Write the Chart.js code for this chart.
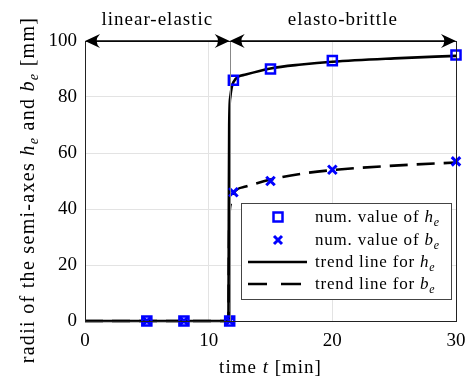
<!DOCTYPE html>
<html>
<head>
<meta charset="utf-8">
<script src="https://cdn.jsdelivr.net/npm/chart.js@4.4.1/dist/chart.umd.min.js"></script>
<style>
  html, body { margin: 0; padding: 0; background: #fff; }
</style>
</head>
<body>
<canvas id="canvas" width="470" height="382"></canvas>
<script>
// numerical values
const tMarks = [5, 8, 11.7, 12, 15, 20, 30];
const heMarks = [0, 0, 0, 86, 90, 93, 95];
const beMarks = [0, 0, 0, 46, 50, 54, 57];

// trend lines
const tTrendH = [0, 11.6, 11.63, 11.66, 11.75, 12, 13, 15, 17.5, 20, 25, 30];
const heTrend = [0, 0, 40, 70, 80, 85.3, 88, 90.2, 91.6, 92.6, 93.8, 94.7];
const tTrendB = [0, 11.6, 11.63, 11.66, 11.8, 12, 13, 15, 17.5, 20, 25, 30];
const beTrend = [0, 0, 20, 35, 42, 45.5, 48, 50.5, 52.6, 53.9, 55.5, 56.6];

const xTicks = [0, 10, 20, 30];
const yTicks = [0, 20, 40, 60, 80, 100];

// phases shown with arrows at the top
const phaseBounds = [0, 11.7, 30];
const phaseLabels = ['linear-elastic', 'elasto-brittle'];

const FONT = '"Liberation Serif", "Times New Roman", serif';
const BLUE = '#0000ff';

const toXY = (xs, ys) => xs.map((x, i) => ({ x: x, y: ys[i] }));

// draw text made of pieces: [text, italic, sub]
function richWidth(ctx, parts, size) {
    let w = 0;
    parts.forEach(p => {
        ctx.font = (p[1] ? 'italic ' : '') + (p[2] ? size * 0.7 : size) + 'px ' + FONT;
        w += ctx.measureText(p[0]).width;
    });
    return w;
}
function richText(ctx, parts, x, y, size) {
    ctx.textAlign = 'left';
    ctx.textBaseline = 'alphabetic';
    parts.forEach(p => {
        ctx.font = (p[1] ? 'italic ' : '') + (p[2] ? size * 0.7 : size) + 'px ' + FONT;
        ctx.fillText(p[0], x, y + (p[2] ? size * 0.22 : 0));
        x += ctx.measureText(p[0]).width;
    });
}

function arrowHead(ctx, x, y, dir) {
    const L = 15, W = 7;
    ctx.beginPath();
    ctx.moveTo(x, y);
    ctx.lineTo(x - dir * L, y - W);
    ctx.quadraticCurveTo(x - dir * L * 0.55, y, x - dir * L, y + W);
    ctx.closePath();
    ctx.fill();
}

const decor = {
    id: 'decor',
    afterDatasetsDraw(chart) {
        const ctx = chart.ctx;
        const a = chart.chartArea;
        const xs = chart.scales.x, ys = chart.scales.y;
        ctx.save();

        // phase divider
        const xd = Math.round(xs.getPixelForValue(phaseBounds[1])) + 0.5;
        ctx.strokeStyle = '#888';
        ctx.lineWidth = 1;
        ctx.beginPath();
        ctx.moveTo(xd, a.top);
        ctx.lineTo(xd, a.bottom);
        ctx.stroke();

        // box
        ctx.strokeStyle = '#222';
        ctx.lineWidth = 1;
        ctx.strokeRect(Math.round(a.left) + 0.5, Math.round(a.top) + 0.5,
            Math.round(a.right - a.left), Math.round(a.bottom - a.top));

        // arrows
        const ya = ys.getPixelForValue(100);
        ctx.strokeStyle = '#000';
        ctx.fillStyle = '#000';
        ctx.lineWidth = 1.6;
        ctx.letterSpacing = '1px';
        for (let i = 0; i < phaseLabels.length; i++) {
            const x0 = xs.getPixelForValue(phaseBounds[i]);
            const x1 = xs.getPixelForValue(phaseBounds[i + 1]);
            ctx.beginPath();
            ctx.moveTo(x0 + 5, ya);
            ctx.lineTo(x1 - 5, ya);
            ctx.stroke();
            arrowHead(ctx, x0, ya, -1);
            arrowHead(ctx, x1, ya, 1);
            ctx.font = '19px ' + FONT;
            ctx.textAlign = 'center';
            ctx.textBaseline = 'alphabetic';
            ctx.fillText(phaseLabels[i], (x0 + x1) / 2, 25);
        }

        // axis titles
        const xt = [['time ', false], ['t', true], [' [min]', false]];
        const wx = richWidth(ctx, xt, 19);
        richText(ctx, xt, (a.left + a.right) / 2 - wx / 2, 373, 19);

        ctx.letterSpacing = '1.3px';
        const yt = [['radii of the semi-axes ', false], ['h', true], ['e', true, true],
            [' and ', false], ['b', true], ['e', true, true], [' [mm]', false]];
        const wy = richWidth(ctx, yt, 20);
        ctx.translate(34, 190);
        ctx.rotate(-Math.PI / 2);
        richText(ctx, yt, -wy / 2, 0, 20);
        ctx.restore();

        // legend
        ctx.save();
        const lx = 241, ly = 203, lw = 210, lh = 96;
        ctx.fillStyle = '#fff';
        ctx.fillRect(lx, ly, lw, lh);
        ctx.strokeStyle = '#444';
        ctx.lineWidth = 1;
        ctx.strokeRect(lx + 0.5, ly + 0.5, lw, lh);
        const rows = [217, 240, 262, 284];
        const mx = 278;
        // square
        ctx.strokeStyle = BLUE;
        ctx.lineWidth = 2.5;
        ctx.strokeRect(mx - 4.5, rows[0] - 4.5, 9, 9);
        // cross
        ctx.lineWidth = 3;
        ctx.beginPath();
        ctx.moveTo(mx - 4, rows[1] - 4); ctx.lineTo(mx + 4, rows[1] + 4);
        ctx.moveTo(mx + 4, rows[1] - 4); ctx.lineTo(mx - 4, rows[1] + 4);
        ctx.stroke();
        // lines
        ctx.strokeStyle = '#000';
        ctx.lineWidth = 2.6;
        ctx.beginPath();
        ctx.moveTo(248, rows[2]); ctx.lineTo(307, rows[2]);
        ctx.stroke();
        ctx.beginPath();
        ctx.moveTo(248, rows[3]); ctx.lineTo(267, rows[3]);
        ctx.moveTo(281, rows[3]); ctx.lineTo(301, rows[3]);
        ctx.stroke();
        ctx.fillStyle = '#000';
        ctx.letterSpacing = '0.8px';
        const texts = [
            [['num. value of ', false], ['h', true], ['e', true, true]],
            [['num. value of ', false], ['b', true], ['e', true, true]],
            [['trend line for ', false], ['h', true], ['e', true, true]],
            [['trend line for ', false], ['b', true], ['e', true, true]]
        ];
        texts.forEach((t, i) => richText(ctx, t, 315, rows[i] + 5, 17));
        ctx.restore();
    }
};

const config = {
    type: 'scatter',
    data: {
        datasets: [
            {
                label: 'num. value of h_e',
                data: toXY(tMarks, heMarks),
                pointStyle: 'rect',
                pointRadius: 6.4,
                pointBorderWidth: 2.5,
                borderColor: BLUE,
                backgroundColor: 'transparent',
                showLine: false,
                clip: false
            },
            {
                label: 'num. value of b_e',
                data: toXY(tMarks, beMarks),
                pointStyle: 'crossRot',
                pointRadius: 6,
                pointBorderWidth: 3,
                borderColor: BLUE,
                backgroundColor: BLUE,
                showLine: false,
                clip: false
            },
            {
                label: 'trend line for h_e',
                data: toXY(tTrendH, heTrend),
                showLine: true,
                borderColor: '#000',
                borderWidth: 2.6,
                pointRadius: 0,
                cubicInterpolationMode: 'monotone',
                clip: false
            },
            {
                label: 'trend line for b_e',
                data: toXY(tTrendB, beTrend),
                showLine: true,
                borderColor: '#000',
                borderWidth: 2.6,
                borderDash: [18, 9],
                pointRadius: 0,
                cubicInterpolationMode: 'monotone',
                clip: false
            }
        ]
    },
    options: {
        responsive: false,
        animation: false,
        layout: { padding: { left: 0, top: 41, right: 14, bottom: 0 } },
        plugins: { legend: { display: false }, tooltip: { enabled: false } },
        scales: {
            x: {
                type: 'linear',
                min: 0, max: 30,
                afterBuildTicks: s => { s.ticks = xTicks.map(v => ({ value: v })); },
                afterFit: s => { s.height = 61; s.paddingLeft = 0; s.paddingRight = 0; },
                grid: { color: '#e3e3e3', drawTicks: false },
                border: { display: false },
                ticks: { color: '#000', font: { family: FONT, size: 19 }, padding: 9, maxRotation: 0 }
            },
            y: {
                min: 0, max: 100,
                afterBuildTicks: s => { s.ticks = yTicks.map(v => ({ value: v })); },
                afterFit: s => { s.width = 85; s.paddingTop = 0; s.paddingBottom = 0; },
                grid: { color: '#e3e3e3', drawTicks: false },
                border: { display: false },
                ticks: { color: '#000', font: { family: FONT, size: 19 }, padding: 8 }
            }
        }
    },
    plugins: [decor]
};

const chart = new Chart(document.getElementById('canvas').getContext('2d'), config);
</script>
</body>
</html>
